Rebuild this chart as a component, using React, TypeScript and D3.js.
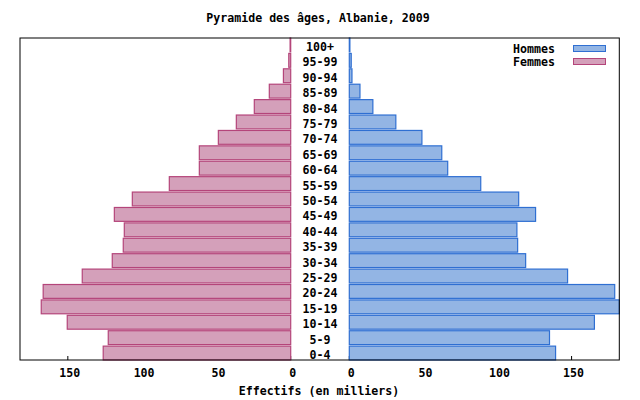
import React from "react";
import * as d3 from "d3";

const ages = ["0-4","5-9","10-14","15-19","20-24","25-29","30-34","35-39","40-44","45-49","50-54","55-59","60-64","65-69","70-74","75-79","80-84","85-89","90-94","95-99","100+"];
const hommes = [139.2,135.1,165.4,182.2,179.1,147.3,119,113.6,113.1,125.7,114.3,88.7,66.4,62.4,49,31.4,15.9,7.2,1.8,1.3,0.4];
const femmes = [126.2,122.8,150.4,167.9,166.6,140.3,120.1,112.7,112,118.7,106.6,81.7,61.5,61.5,48.7,36.6,24.5,14.4,4.9,1.3,0.4];
const ticks = [0, 50, 100, 150];
const title = "Pyramide des âges, Albanie, 2009";
const xTitle = "Effectifs (en milliers)";

const W = 640, H = 400;
const top = 38, bottom = 360, left = 20, right = 619.3;
const midL = 290.7, midR = 349.3;
const font = "'DejaVu Sans Mono', monospace";

const blueFill = "#93b5e4", blueStroke = "#2f6fd2";
const pinkFill = "#d4a0ba", pinkStroke = "#b4457a";

export default function App() {
  const maxV = d3.max([...hommes, ...femmes]) as number;
  const xL = d3.scaleLinear().domain([0, maxV]).range([midL, left]);
  const xR = d3.scaleLinear().domain([0, maxV]).range([midR, right]);
  const y = d3.scaleBand<string>().domain([...ages].reverse()).range([top, bottom]).paddingInner(0.1).paddingOuter(0.0);
  const bh = y.bandwidth();
  return (
    <svg width={W} height={H} style={{ position: "absolute", left: 0, top: 0, background: "#fff" }} fontFamily={font}>
      <rect x={0} y={0} width={W} height={H} fill="#fff" />
      <text x={318} y={22} textAnchor="middle" fontSize={11.6} fontWeight="bold">{title}</text>
      {ticks.map(t => (
        <g key={"t" + t}>
          <line x1={xL(t)} x2={xL(t)} y1={bottom} y2={bottom - 4} stroke="#000" />
          <line x1={xR(t)} x2={xR(t)} y1={bottom} y2={bottom - 4} stroke="#000" />
          <text x={xL(t) + 2} y={377} textAnchor="middle" fontSize={11.6} fontWeight="bold">{t}</text>
          <text x={xR(t) + 2} y={377} textAnchor="middle" fontSize={11.6} fontWeight="bold">{t}</text>
        </g>
      ))}
      {ages.map((a, i) => (
        <g key={a}>
          <rect x={xL(femmes[i])} y={y(a)!} width={xL(0) - xL(femmes[i])} height={bh}
            fill={pinkFill} stroke={pinkStroke} strokeWidth={1.2} />
          <rect x={xR(0)} y={y(a)!} width={xR(hommes[i]) - xR(0)} height={bh}
            fill={blueFill} stroke={blueStroke} strokeWidth={1.2} />
          <text x={320} y={y(a)! + bh / 2 + 6} textAnchor="middle" fontSize={11.6} fontWeight="bold">{a}</text>
        </g>
      ))}
      <rect x={left} y={top} width={right - left} height={bottom - top} fill="none" stroke="#000" strokeWidth={1} />
      <text x={319} y={395} textAnchor="middle" fontSize={11.6} fontWeight="bold">{xTitle}</text>
      <text x={555} y={52.5} textAnchor="end" fontSize={11.6} fontWeight="bold">Hommes</text>
      <rect x={573.5} y={45.5} width={32} height={6} fill={blueFill} stroke={blueStroke} />
      <text x={555} y={65.5} textAnchor="end" fontSize={11.6} fontWeight="bold">Femmes</text>
      <rect x={573.5} y={58.5} width={32} height={6} fill={pinkFill} stroke={pinkStroke} />
    </svg>
  );
}
